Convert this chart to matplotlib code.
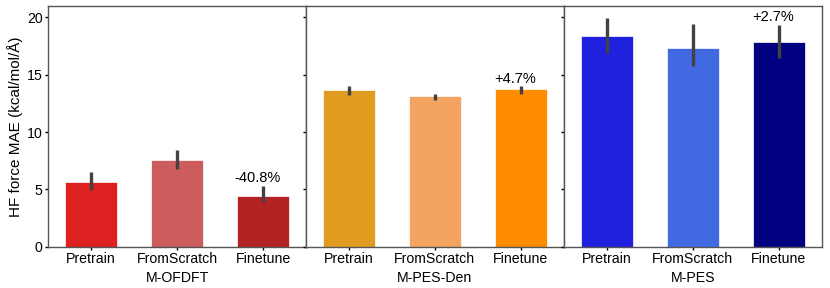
import matplotlib
matplotlib.use('Agg')
import matplotlib.pyplot as plt
import numpy as np

plt.rcParams['font.family'] = ['Liberation Sans', 'DejaVu Sans']

# Data
methods = ['Pretrain', 'FromScratch', 'Finetune']
panels = ['M-OFDFT', 'M-PES-Den', 'M-PES']
mae = [
    [5.67, 7.53, 4.45],
    [13.63, 13.11, 13.72],
    [18.34, 17.35, 17.82],
]
err_low = [
    [4.99, 6.77, 3.87],
    [13.23, 12.79, 13.34],
    [16.91, 15.75, 16.48],
]
err_high = [
    [6.54, 8.43, 5.32],
    [14.04, 13.34, 14.01],
    [19.94, 19.44, 19.36],
]
change_labels = ['-40.8%', '+4.7%', '+2.7%']
colors = [
    ['#DF2020', '#CD5C5C', '#B22222'],
    ['#DF9C20', '#F4A460', '#FF8C00'],
    ['#2020DF', '#4169E1', '#000080'],
]

fig, axes = plt.subplots(1, 3, figsize=(8.3, 2.88), dpi=100, sharey=True)
fig.subplots_adjust(left=0.058, right=0.990, bottom=0.143, top=0.980, wspace=0)

x = np.arange(len(methods))
for i, ax in enumerate(axes):
    vals = np.array(mae[i])
    lo = vals - np.array(err_low[i])
    hi = np.array(err_high[i]) - vals
    ax.bar(x, vals, width=0.6, color=colors[i], edgecolor='white', linewidth=0.5)
    ax.errorbar(x, vals, yerr=[lo, hi], fmt='none', ecolor='#424242', elinewidth=2.4, capsize=0)
    # percent change over the finetuned bar
    ax.text(x[-1] - 0.07, err_high[i][-1] + 0.3, change_labels[i],
            ha='center', va='baseline', fontsize=10.5)

    ax.set_xlim(-0.5, 2.5)
    ax.set_xticks(x)
    ax.set_xticklabels([methods[0], methods[1] + '\n' + panels[i], methods[2]],
                       linespacing=1.5)
    ax.tick_params(axis='x', direction='out', length=2.2, width=1, pad=1.2, labelsize=10.2)
    ax.tick_params(axis='y', direction='out', length=2.5, width=1, pad=1.6, labelsize=10.2)
    for s in ax.spines.values():
        s.set_color('#555555')
        s.set_linewidth(1)

axes[0].set_ylim(0, 21)
axes[0].set_yticks([0, 5, 10, 15, 20])
axes[0].set_ylabel('HF force MAE (kcal/mol/Å)', fontsize=11, labelpad=2.5)

fig.savefig('out.png', dpi=100)
